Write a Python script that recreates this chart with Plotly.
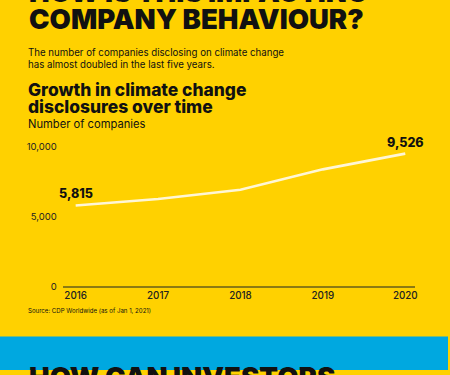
import plotly.graph_objects as go

years = [2016, 2017, 2018, 2019, 2020]
companies = [5815, 6280, 6940, 8400, 9526]
y_ticks = [0, 5000, 10000]
y_tick_labels = ["0", "5,000", "10,000"]
label_idx = [0, 4]
label_shift = [12, 11]

W, H = 450, 375
YELLOW = "#FFD100"
BLUE = "#00A8E0"
INK = "#111111"
TITLE_FONT = "Inter, Roboto, sans-serif"

def py(pix):
    return 1 - pix / H

fig = go.Figure()
fig.add_trace(go.Scatter(
    x=years, y=companies, mode="lines",
    line=dict(color="#FFF6D5", width=2.6),
    hoverinfo="skip", showlegend=False,
))

for i, s in zip(label_idx, label_shift):
    fig.add_annotation(
        x=years[i], y=companies[i], xref="x", yref="y",
        text=f"{companies[i]:,}", showarrow=False, yshift=s,
        font=dict(family=TITLE_FONT, size=12.5, color=INK, weight=800),
    )

def txt(text, x, ypix, size, weight=400, color=INK, family=TITLE_FONT):
    fig.add_annotation(
        x=x / W, y=py(ypix), xref="paper", yref="paper",
        xanchor="left", yanchor="middle", text=text, showarrow=False,
        font=dict(family=family, size=size, color=color, weight=weight),
    )

txt("HOW IS THIS IMPACTING", 27, -8.5, 27.5, 900)
txt("COMPANY BEHAVIOUR?", 27, 19.5, 27.5, 900)
txt("The number of companies disclosing on climate change", 26, 53.5, 9.7)
txt("has almost doubled in the last five years.", 26, 65.5, 9.7)
txt("Growth in climate change", 26, 91, 17.4, 800)
txt("disclosures over time", 26, 108, 17.4, 800)
txt("Number of companies", 26, 126, 11.2)
txt("Source: CDP Worldwide (as of Jan 1, 2021)", 26, 315, 6.1)

fig.add_shape(type="rect", xref="paper", yref="paper",
              x0=0, x1=1, y0=0, y1=py(341), fillcolor=BLUE,
              line=dict(width=0), layer="below")
txt("HOW CAN INVESTORS", 27, 382, 27.5, 900)

fig.update_layout(
    width=W, height=H,
    margin=dict(l=0, r=0, t=0, b=0),
    paper_bgcolor=YELLOW, plot_bgcolor=YELLOW,
    xaxis=dict(
        domain=[63 / W, 417 / W], range=[2015.843, 2020.12],
        tickvals=years, ticktext=[str(y) for y in years],
        showgrid=False, zeroline=False, showline=False,
        ticks="", tickfont=dict(family=TITLE_FONT, size=9.8, color="#222", weight=500),
        ticklabelstandoff=2,
    ),
    yaxis=dict(
        domain=[py(290.5), py(134.85)], range=[0, 11000],
        tickvals=y_ticks, ticktext=y_tick_labels,
        showgrid=False, zeroline=True, zerolinecolor="#8C7A12",
        zerolinewidth=2.2, showline=False, ticks="",
        tickfont=dict(family=TITLE_FONT, size=9.5, color="#222"),
        ticklabelstandoff=5,
    ),
)

css_js = (
    "var s=document.createElement('style');"
    "s.textContent='html,body{margin:0;padding:0;width:450px;height:375px;overflow:hidden;}';"
    "document.head.appendChild(s);"
)
fig.write_html("out.html", config={"displayModeBar": False}, post_script=css_js)
